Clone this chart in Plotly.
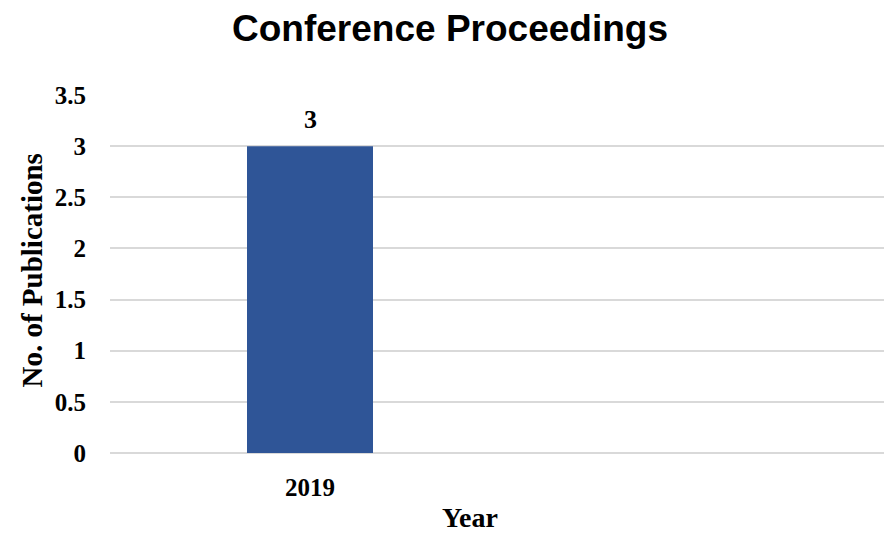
import plotly.graph_objects as go

years = ["2019", " "]
publications = [3, None]
bar_labels = ["3", ""]
y_ticks = [0, 0.5, 1, 1.5, 2, 2.5, 3, 3.5]
y_tick_text = ["0", "0.5", "1", "1.5", "2", "2.5", "3", "3.5"]

serif = "Liberation Serif, Times New Roman, serif"

fig = go.Figure()
fig.add_trace(go.Bar(
    x=years, y=publications, width=0.315,
    marker=dict(color="#2F5597", line=dict(width=0)),
    cliponaxis=False,
))

annotations = []
for i, (yv, lab) in enumerate(zip(publications, bar_labels)):
    if yv is not None and lab:
        annotations.append(dict(x=i, y=yv, xref="x", yref="y", text=f"<b>{lab}</b>",
                                showarrow=False, yanchor="middle", yshift=27,
                                font=dict(family=serif, size=26, color="black")))

annotations.append(dict(text="<b>Year</b>", xref="paper", yref="paper",
                        x=0.4604, y=-0.179, xanchor="center", yanchor="middle",
                        showarrow=False, font=dict(family=serif, size=28, color="black")))
annotations.append(dict(text="<b>No. of Publications</b>", xref="paper", yref="paper",
                        x=-0.0997, y=0.5098, xanchor="center", yanchor="middle",
                        textangle=-90, showarrow=False,
                        font=dict(family=serif, size=29, color="black")))

fig.update_layout(
    width=884, height=525,
    margin=dict(l=102, r=0, t=87, b=80),
    paper_bgcolor="white", plot_bgcolor="white",
    showlegend=False,
    title=dict(text="<b>Conference Proceedings</b>", x=442 / 884, xanchor="center",
               y=0.961, yanchor="middle",
               font=dict(family="Liberation Sans, Arial, sans-serif", size=37, color="black")),
    xaxis=dict(type="category", range=[-0.5, 1.455], showgrid=False,
               showline=False, ticks="", ticklabelstandoff=17,
               tickfont=dict(family=serif, size=25, color="black"),
               tickvals=["2019"], ticktext=["<b>2019</b>"]),
    yaxis=dict(range=[0, 3.5], tickvals=y_ticks,
               ticktext=[f"<b>{t}</b>" for t in y_tick_text],
               showgrid=True, gridcolor="#D9D9D9", gridwidth=1.5,
               zeroline=True, zerolinecolor="#D9D9D9", zerolinewidth=1.5,
               showline=False, ticks="", ticklabelstandoff=23,
               tickfont=dict(family=serif, size=25, color="black")),
    annotations=annotations,
)

fig.write_html("out.html")
